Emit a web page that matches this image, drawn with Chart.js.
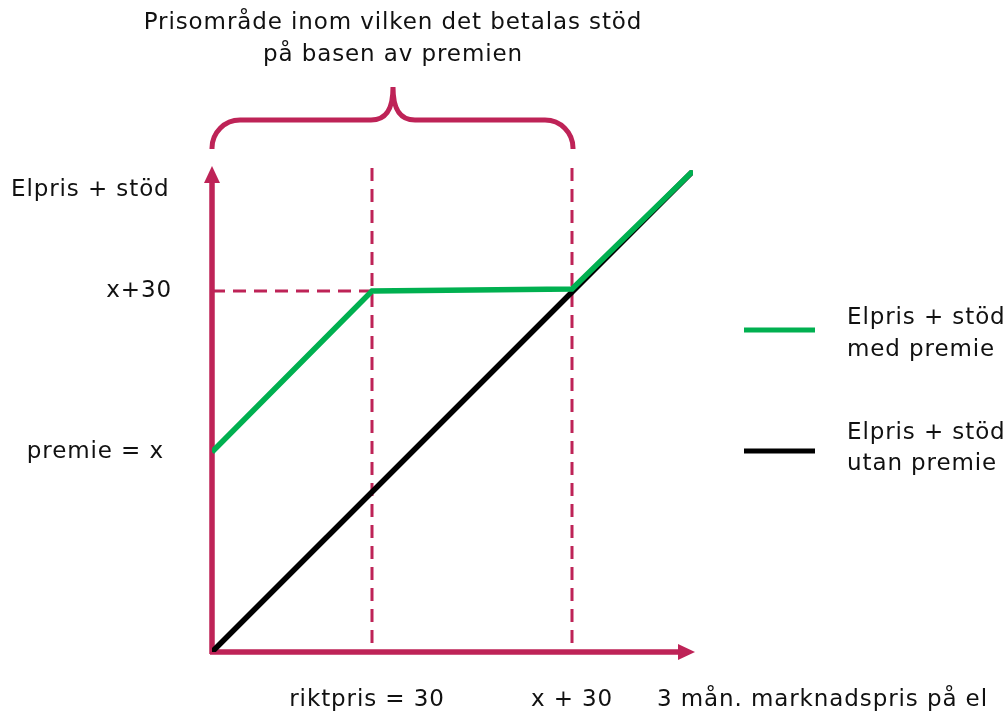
<!DOCTYPE html>
<html lang="sv">
<head>
<meta charset="utf-8">
<title>Elpris + stöd</title>
<script src="https://cdn.jsdelivr.net/npm/chart.js@4"></script>
<style>
  html, body { margin: 0; padding: 0; background: #fff; }
  #wrap { width: 1007px; height: 715px; }
</style>
</head>
<body>
<div id="wrap"><canvas id="chart" width="1007" height="715"></canvas></div>
<script>
// ─────────────────────────────
// Data (schematic units)
// ─────────────────────────────
const marketPrice = [0, 160, 360, 481];          // 3 mån. marknadspris
const withPremium = [200, 361, 363, 481];         // Elpris + stöd med premie
const noPremiumX = [0, 481];
const noPremium = [0, 481];                       // Elpris + stöd utan premie

const riktpris = 160;       // "riktpris = 30"
const upperLimit = 360;     // "x + 30"
const premieLevel = 200;    // "premie = x"
const capLevel = 361;       // "x+30"

const titleLines = ['Prisområde inom vilken det betalas stöd', 'på basen av premien'];
const legendItems = [
  { lines: ['Elpris + stöd', 'med premie'], color: '#00b050', y: 330, ty: [318, 350] },
  { lines: ['Elpris + stöd', 'utan premie'], color: '#000000', y: 451, ty: [433, 464] }
];

const AXIS = '#be2357';
const FONT = '23px "DejaVu Sans", Verdana, sans-serif';
const TEXT = '#111';

// ─────────────────────────────
// Helpers
// ─────────────────────────────
function arrow(ctx, x, y, dir) {
  ctx.beginPath();
  if (dir === 'up') {
    ctx.moveTo(x, y);
    ctx.lineTo(x - 8, y + 17);
    ctx.lineTo(x + 8, y + 17);
  } else {
    ctx.moveTo(x, y);
    ctx.lineTo(x - 17, y - 8);
    ctx.lineTo(x - 17, y + 8);
  }
  ctx.closePath();
  ctx.fill();
}

const schemePlugin = {
  id: 'scheme',
  beforeDatasetsDraw(chart) {
    const { ctx, scales: { x, y } } = chart;
    const x0 = x.getPixelForValue(0), y0 = y.getPixelForValue(0);
    const top = y.getPixelForValue(y.max) - 2;
    const right = x.getPixelForValue(x.max);
    const xr = x.getPixelForValue(riktpris), xu = x.getPixelForValue(upperLimit);
    const yc = y.getPixelForValue(capLevel);

    ctx.save();
    // dashed guides
    ctx.strokeStyle = AXIS;
    ctx.lineWidth = 3;
    ctx.setLineDash([13, 8]);
    ctx.beginPath();
    ctx.moveTo(xr, top); ctx.lineTo(xr, y0);
    ctx.moveTo(xu, top); ctx.lineTo(xu, y0);
    ctx.moveTo(x0, yc); ctx.lineTo(xr, yc);
    ctx.stroke();
    ctx.setLineDash([]);

    // axes with arrows
    ctx.lineWidth = 5.5;
    ctx.beginPath();
    ctx.moveTo(x0, y0 + 2); ctx.lineTo(x0, top + 10);
    ctx.moveTo(x0 - 2, y0); ctx.lineTo(right - 10, y0);
    ctx.stroke();
    ctx.fillStyle = AXIS;
    arrow(ctx, x0, top - 2, 'up');
    arrow(ctx, right + 2, y0, 'right');

    // curly brace over the price range
    const bl = x0, br = xu + 1, bm = 393;
    const yEnd = 149, yH = 120, yPeak = 87, r = 28;
    ctx.lineWidth = 5;
    ctx.beginPath();
    ctx.moveTo(bl, yEnd);
    ctx.arcTo(bl, yH, bl + r, yH, r);
    ctx.lineTo(bm - 22, yH);
    ctx.bezierCurveTo(bm - 6, yH, bm, yH - 12, bm, yPeak);
    ctx.bezierCurveTo(bm, yH - 12, bm + 6, yH, bm + 22, yH);
    ctx.lineTo(br - r, yH);
    ctx.arcTo(br, yH, br, yEnd, r);
    ctx.lineTo(br, yEnd);
    ctx.stroke();
    ctx.restore();
  },
  afterDraw(chart) {
    const { ctx, scales: { x, y } } = chart;
    ctx.save();
    ctx.font = FONT;
    ctx.letterSpacing = '0.9px';
    ctx.fillStyle = TEXT;
    ctx.textBaseline = 'middle';

    // title
    ctx.textAlign = 'center';
    ctx.fillText(titleLines[0], 393, 23);
    ctx.fillText(titleLines[1], 393, 55);

    // y labels
    ctx.textAlign = 'left';
    ctx.fillText('Elpris + stöd', 11, 190);
    ctx.textAlign = 'right';
    ctx.fillText('x+30', 172, y.getPixelForValue(capLevel));
    ctx.fillText('premie = x', 164, y.getPixelForValue(premieLevel));

    // x labels
    ctx.textAlign = 'center';
    ctx.fillText('riktpris = 30', x.getPixelForValue(riktpris) - 5, 700);
    ctx.fillText('x + 30', x.getPixelForValue(upperLimit), 700);
    ctx.textAlign = 'left';
    ctx.fillText('3 mån. marknadspris på el', 657, 700);

    // legend
    legendItems.forEach(item => {
      ctx.strokeStyle = item.color;
      ctx.lineWidth = 5;
      ctx.beginPath();
      ctx.moveTo(744, item.y); ctx.lineTo(815, item.y);
      ctx.stroke();
      ctx.fillStyle = TEXT;
      ctx.fillText(item.lines[0], 847, item.ty[0]);
      ctx.fillText(item.lines[1], 847, item.ty[1]);
    });
    ctx.restore();
  }
};

// ─────────────────────────────
// Chart
// ─────────────────────────────
new Chart(document.getElementById('chart').getContext('2d'), {
  type: 'line',
  data: {
    datasets: [
      {
        label: 'Elpris + stöd med premie',
        data: marketPrice.map((v, i) => ({ x: v, y: withPremium[i] })),
        borderColor: '#00b050',
        borderWidth: 5.5,
        pointRadius: 0,
        tension: 0,
        order: 1
      },
      {
        label: 'Elpris + stöd utan premie',
        data: noPremiumX.map((v, i) => ({ x: v, y: noPremium[i] })),
        borderColor: '#000000',
        borderWidth: 5.5,
        pointRadius: 0,
        tension: 0,
        order: 2
      }
    ]
  },
  options: {
    responsive: false,
    animation: false,
    layout: { padding: { left: 212, right: 314, top: 170, bottom: 63 } },
    scales: {
      x: { type: 'linear', min: 0, max: 481, display: false },
      y: { type: 'linear', min: 0, max: 482, display: false }
    },
    plugins: {
      legend: { display: false },
      tooltip: { enabled: false }
    }
  },
  plugins: [schemePlugin]
});
</script>
</body>
</html>
